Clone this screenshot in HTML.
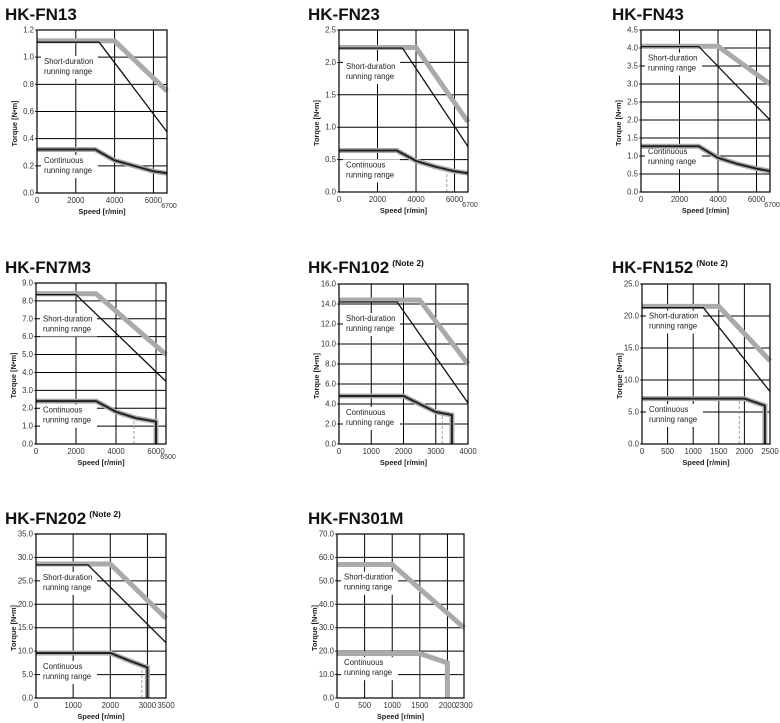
<!DOCTYPE html>
<html><head><meta charset="utf-8">
<style>
html,body{margin:0;padding:0;background:#fff;}
body{width:780px;height:723px;overflow:hidden;position:relative;font-family:"Liberation Sans",sans-serif;}
svg{position:absolute;left:0;top:0;}
</style></head>
<body>
<svg id="root" width="780" height="723"></svg>
<script>
// ---- Data (speed r/min, torque N·m) ----
const fn13_xTicks=[0,2000,4000,6000]; const fn13_yTicks=[0,0.2,0.4,0.6,0.8,1.0,1.2];
const fn13_shortGray=[[0,1.12],[4000,1.12],[6700,0.75]];
const fn13_shortBlack=[[0,1.11],[3200,1.11],[6700,0.45]];
const fn13_cont=[[0,0.32],[3000,0.32],[4000,0.24],[5000,0.2],[6000,0.16],[6700,0.145]];

const fn23_xTicks=[0,2000,4000,6000]; const fn23_yTicks=[0,0.5,1.0,1.5,2.0,2.5];
const fn23_shortGray=[[0,2.23],[4000,2.23],[6700,1.08]];
const fn23_shortBlack=[[0,2.22],[3300,2.22],[6700,0.7]];
const fn23_cont=[[0,0.64],[3000,0.64],[4000,0.48],[5000,0.39],[6000,0.32],[6700,0.29]];

const fn43_xTicks=[0,2000,4000,6000]; const fn43_yTicks=[0,0.5,1.0,1.5,2.0,2.5,3.0,3.5,4.0,4.5];
const fn43_shortGray=[[0,4.05],[4000,4.05],[6700,3.0]];
const fn43_shortBlack=[[0,4.04],[3000,4.04],[6700,2.0]];
const fn43_cont=[[0,1.27],[3000,1.27],[4000,0.95],[5000,0.78],[6000,0.65],[6700,0.58]];

const fn7m3_xTicks=[0,2000,4000,6000]; const fn7m3_yTicks=[0,1,2,3,4,5,6,7,8,9];
const fn7m3_shortGray=[[0,8.4],[3000,8.4],[6500,5.0]];
const fn7m3_shortBlack=[[0,8.35],[2000,8.35],[6500,3.5]];
const fn7m3_cont=[[0,2.4],[3000,2.4],[4000,1.8],[5000,1.45],[6000,1.25],[6000,0]];

const fn102_xTicks=[0,1000,2000,3000,4000]; const fn102_yTicks=[0,2,4,6,8,10,12,14,16];
const fn102_shortGray=[[0,14.4],[2500,14.4],[4000,8.0]];
const fn102_shortBlack=[[0,14.2],[1800,14.2],[4000,4.1]];
const fn102_cont=[[0,4.8],[2000,4.8],[3000,3.2],[3500,2.9],[3500,0]];

const fn152_xTicks=[0,500,1000,1500,2000,2500]; const fn152_yTicks=[0,5,10,15,20,25];
const fn152_shortGray=[[0,21.5],[1500,21.5],[2500,13]];
const fn152_shortBlack=[[0,21.3],[1200,21.3],[2500,8.2]];
const fn152_cont=[[0,7.1],[2000,7.1],[2400,6.0],[2400,0]];

const fn202_xTicks=[0,1000,2000,3000,3500]; const fn202_yTicks=[0,5,10,15,20,25,30,35];
const fn202_shortGray=[[0,28.6],[2000,28.6],[3500,17]];
const fn202_shortBlack=[[0,28.4],[1400,28.4],[3500,11.8]];
const fn202_cont=[[0,9.6],[2000,9.6],[2500,8.0],[3000,6.5],[3000,0]];

const fn301_xTicks=[0,500,1000,1500,2000,2300]; const fn301_yTicks=[0,10,20,30,40,50,60,70];
const fn301_shortGray=[[0,57],[1000,57],[2300,30]];
const fn301_cont=[[0,19],[1500,19],[2000,15],[2000,0]];

const charts=[
 {id:'fn13',title:'HK-FN13',note:false,l:37,r:167,t:30,b:193,tx:5,ty:19,xmax:6700,ymax:1.2,dec:1,xT:fn13_xTicks,yT:fn13_yTicks,extra:6700,sg:fn13_shortGray,sb:fn13_shortBlack,c:fn13_cont,cb:true,dash:null,sy:0.95,cy:0.22},
 {id:'fn23',title:'HK-FN23',note:false,l:339,r:468,t:30,b:192,tx:308,ty:19,xmax:6700,ymax:2.5,dec:1,xT:fn23_xTicks,yT:fn23_yTicks,extra:6700,sg:fn23_shortGray,sb:fn23_shortBlack,c:fn23_cont,cb:true,dash:[5600,0.35],sy:1.9,cy:0.38},
 {id:'fn43',title:'HK-FN43',note:false,l:641,r:770,t:30,b:192,tx:612,ty:19,xmax:6700,ymax:4.5,dec:1,xT:fn43_xTicks,yT:fn43_yTicks,extra:6700,sg:fn43_shortGray,sb:fn43_shortBlack,c:fn43_cont,cb:true,dash:null,sy:3.65,cy:1.05},
 {id:'fn7m3',title:'HK-FN7M3',note:false,l:36,r:166,t:283,b:444,tx:5,ty:272,xmax:6500,ymax:9,dec:1,xT:fn7m3_xTicks,yT:fn7m3_yTicks,extra:6500,sg:fn7m3_shortGray,sb:fn7m3_shortBlack,c:fn7m3_cont,cb:true,dash:[4900,1.5],sy:6.85,cy:1.75},
 {id:'fn102',title:'HK-FN102',note:true,l:339,r:468,t:284,b:444,tx:308,ty:272,xmax:4000,ymax:16,dec:1,xT:fn102_xTicks,yT:fn102_yTicks,extra:null,sg:fn102_shortGray,sb:fn102_shortBlack,c:fn102_cont,cb:true,dash:[3200,3.1],sy:12.3,cy:2.9},
 {id:'fn152',title:'HK-FN152',note:true,l:642,r:770,t:284,b:444,tx:612,ty:272,xmax:2500,ymax:25,dec:1,xT:fn152_xTicks,yT:fn152_yTicks,extra:null,sg:fn152_shortGray,sb:fn152_shortBlack,c:fn152_cont,cb:true,dash:[1900,7.0],sy:19.6,cy:5.0},
 {id:'fn202',title:'HK-FN202',note:true,l:36,r:166,t:534,b:698,tx:5,ty:523,xmax:3500,ymax:35,dec:1,xT:fn202_xTicks,yT:fn202_yTicks,extra:null,sg:fn202_shortGray,sb:fn202_shortBlack,c:fn202_cont,cb:true,dash:[2850,6.8],sy:25.2,cy:6.2},
 {id:'fn301m',title:'HK-FN301M',note:false,l:337,r:464,t:534,b:698,tx:308,ty:523,xmax:2300,ymax:70,dec:1,xT:fn301_xTicks,yT:fn301_yTicks,extra:null,sg:fn301_shortGray,sb:null,c:fn301_cont,cb:false,dash:null,solidV:[1500,19],sy:50.5,cy:14}
];
const NS='http://www.w3.org/2000/svg';
const root=document.getElementById('root');
function mk(tag,attrs,parent){const e=document.createElementNS(NS,tag);for(const k in attrs)e.setAttribute(k,attrs[k]);parent.appendChild(e);return e;}
charts.forEach(ch=>{
 const g=mk('g',{},root);
 
 
 const X=v=>ch.l+(v/ch.xmax)*(ch.r-ch.l);
 const Y=v=>ch.b-(v/ch.ymax)*(ch.b-ch.t);
 const title=mk('text',{x:ch.tx,y:ch.ty+1,'font-size':'17','font-weight':'bold',fill:'#111'},g);
 title.textContent=ch.title;
 
 
 if(ch.note){const ts=mk('tspan',{'font-size':'8.5','dy':'-7','dx':'3'},title);ts.textContent='(Note 2)';}
 ch.xT.forEach(v=>{if(v>0&&v<ch.xmax){const ln=mk('line',{x1:X(v),x2:X(v),y1:ch.t,y2:ch.b,stroke:'#000','stroke-width':'1'},g);
   }});
 ch.yT.forEach(v=>{if(v>0&&v<ch.ymax){const ln=mk('line',{x1:ch.l,x2:ch.r,y1:Y(v),y2:Y(v),stroke:'#000','stroke-width':'1'},g);
   }});
 const lbl=(v,a,b,name)=>{const y=Y(v);
   mk('rect',{x:ch.l+4,y:y-8,width:57,height:23,fill:'#fff'},g);
   const t=mk('text',{x:ch.l+7,y:y,'font-size':'7.8',fill:'#222'},g);
   
   const s1=mk('tspan',{x:ch.l+7},t);s1.textContent=a;
   const s2=mk('tspan',{x:ch.l+7,dy:'10'},t);s2.textContent=b;};
 lbl(ch.sy,'Short-duration','running range','short-duration-label');
 lbl(ch.cy,'Continuous','running range','continuous-label');
 if(ch.dash){const d=mk('line',{x1:X(ch.dash[0]),x2:X(ch.dash[0]),y1:ch.b,y2:Y(ch.dash[1]),stroke:'#888','stroke-width':'0.8','stroke-dasharray':'3,2'},g);
   }
 if(ch.solidV){const d=mk('line',{x1:X(ch.solidV[0]),x2:X(ch.solidV[0]),y1:ch.b,y2:Y(ch.solidV[1]),stroke:'#555','stroke-width':'0.8'},g);
   }
 const pts=a=>a.map(p=>X(p[0]).toFixed(1)+','+Y(p[1]).toFixed(1)).join(' ');
 const sg=mk('polyline',{points:pts(ch.sg),fill:'none',stroke:'#aaa','stroke-width':'5','stroke-linejoin':'miter'},g);
 
 if(ch.sb){const sb=mk('polyline',{points:pts(ch.sb),fill:'none',stroke:'#111','stroke-width':'1.3'},g);
   }
 const cg=mk('polyline',{points:pts(ch.c),fill:'none',stroke:'#aaa','stroke-width':'5'},g);
 
 if(ch.cb){const cb=mk('polyline',{points:pts(ch.c),fill:'none',stroke:'#222','stroke-width':'2'},g);
   }
 const fr=mk('rect',{x:ch.l,y:ch.t,width:ch.r-ch.l,height:ch.b-ch.t,fill:'none',stroke:'#000','stroke-width':'1.2'},g);
 
 ch.yT.forEach(v=>{const t=mk('text',{x:ch.l-3,y:Y(v)+2.5,'font-size':'7.8','text-anchor':'end',fill:'#333'},g);
   t.textContent=v.toFixed(ch.dec);
   mk('line',{x1:ch.l-2,x2:ch.l,y1:Y(v),y2:Y(v),stroke:'#000','stroke-width':'0.8'},g);});
 ch.xT.forEach(v=>{const t=mk('text',{x:X(v),y:ch.b+10,'font-size':'7.8','text-anchor':'middle',fill:'#333'},g);
   t.textContent=String(v);});
 if(ch.extra){const t=mk('text',{x:X(ch.extra)+2,y:ch.b+15,'font-size':'7','text-anchor':'middle',fill:'#333'},g);
   t.textContent=String(ch.extra);}
 const xt=mk('text',{x:(ch.l+ch.r)/2,y:ch.b+21,'font-size':'7.4','font-weight':'bold','text-anchor':'middle',fill:'#222'},g);
 xt.textContent='Speed [r/min]';
 const cyy=(ch.t+ch.b)/2+12;
 const yt=mk('text',{x:ch.l-20,y:cyy,'font-size':'7.4','font-weight':'bold','text-anchor':'middle',fill:'#222',transform:'rotate(-90 '+(ch.l-20)+' '+cyy+')'},g);
 yt.textContent='Torque [N•m]';
});
</script>
</body></html>
